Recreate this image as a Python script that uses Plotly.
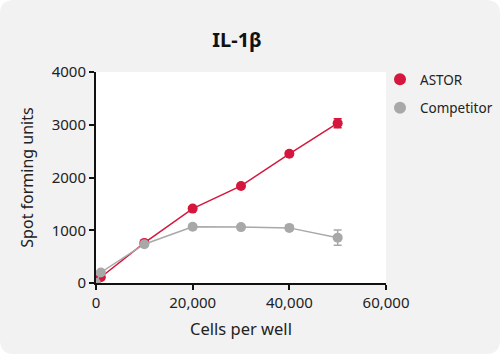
import plotly.graph_objects as go

cells = [0, 1000, 10000, 20000, 30000, 40000, 50000]
astor = [0, 110, 760, 1410, 1840, 2450, 3030]
astor_err = [0, 20, 30, 30, 30, 30, 85]
competitor = [0, 200, 735, 1065, 1060, 1045, 860]
competitor_err = [0, 20, 30, 30, 30, 30, 145]

RED = "#d6173d"
GRAY = "#a8a8a8"
FONT = "Noto Sans"

fig = go.Figure()
fig.add_trace(go.Scatter(
    x=cells, y=astor, name="ASTOR", mode="lines+markers", showlegend=False,
    line=dict(color=RED, width=1.5),
    marker=dict(color=RED, size=10),
    error_y=dict(type="data", array=astor_err, color=RED, thickness=1.5, width=4),
))
fig.add_trace(go.Scatter(
    x=cells, y=competitor, name="Competitor", mode="lines+markers", showlegend=False,
    line=dict(color=GRAY, width=1.5),
    marker=dict(color=GRAY, size=10),
    error_y=dict(type="data", array=competitor_err, color=GRAY, thickness=1.5, width=4),
))
# legend entries (marker only)
for nm, col, grp in [("ASTOR", RED, "a"), ("Competitor", GRAY, "b")]:
    fig.add_trace(go.Scatter(x=[None], y=[None], name=nm, mode="markers",
                             marker=dict(color=col, size=10), legendgroup=grp))

W, H = 500, 354
L, R, T, B = 96, 114, 72, 71
pw, ph = W - L - R, H - T - B

def px(xp):
    return (xp - L) / pw

def py(yp):
    return (H - B - yp) / ph

r = 14
x0, x1, y0, y1 = 0, W, 0, H
path = (f"M {px(x0 + r)},{py(y0)} L {px(x1 - r)},{py(y0)} "
        f"Q {px(x1)},{py(y0)} {px(x1)},{py(y0 + r)} "
        f"L {px(x1)},{py(y1 - r)} Q {px(x1)},{py(y1)} {px(x1 - r)},{py(y1)} "
        f"L {px(x0 + r)},{py(y1)} Q {px(x0)},{py(y1)} {px(x0)},{py(y1 - r)} "
        f"L {px(x0)},{py(y0 + r)} Q {px(x0)},{py(y0)} {px(x0 + r)},{py(y0)} Z")

fig.update_layout(
    width=W, height=H,
    margin=dict(l=L, r=R, t=T, b=B, autoexpand=False),
    paper_bgcolor="white",
    plot_bgcolor="white",
    font=dict(family=FONT, color="#222222", size=15),
    title=dict(text="<b>IL-1β</b>", x=237 / W, xanchor="center", y=1 - 40 / H,
               yanchor="middle", font=dict(size=20, color="#111111", family=FONT)),
    shapes=[
        dict(type="path", path=path, xref="paper", yref="paper",
             fillcolor="#f2f2f2", line=dict(width=0), layer="below"),
        dict(type="rect", x0=0, x1=1, y0=0, y1=1, xref="paper", yref="paper",
             fillcolor="white", line=dict(width=0), layer="below"),
    ],
    xaxis=dict(
        range=[0, 60000], tickvals=[0, 20000, 40000, 60000],
        ticktext=["0", "20,000", "40,000", "60,000"],
        showgrid=False, zeroline=False, showline=True, linecolor="#111111", linewidth=2,
        ticks="outside", ticklen=5, tickwidth=2, tickcolor="#111111",
        tickfont=dict(size=15), title=dict(text="Cells per well", font=dict(size=16.5), standoff=12),
    ),
    yaxis=dict(
        range=[0, 4000], tickvals=[0, 1000, 2000, 3000, 4000],
        showgrid=False, zeroline=False, showline=True, linecolor="#111111", linewidth=2,
        ticks="outside", ticklen=5, tickwidth=2, tickcolor="#111111",
        tickfont=dict(size=15), title=dict(text="Spot forming units", font=dict(size=16), standoff=14),
    ),
    legend=dict(x=px(380), y=py(64), xanchor="left", yanchor="top", bgcolor="rgba(0,0,0,0)",
                font=dict(size=13.5), itemsizing="constant", tracegroupgap=8,
                traceorder="grouped"),
    showlegend=True,
)

fig.write_html("out.html")
